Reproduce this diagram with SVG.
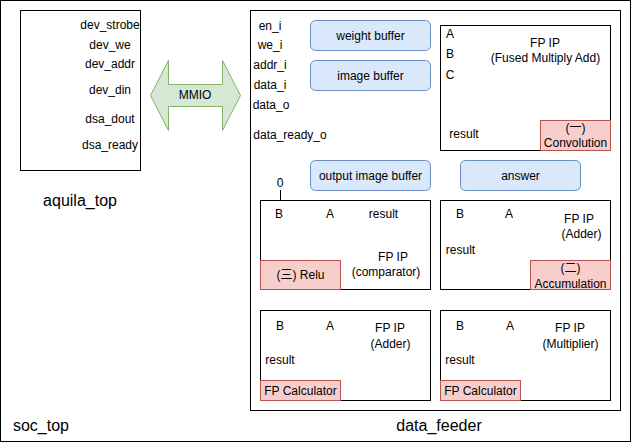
<svg xmlns="http://www.w3.org/2000/svg" width="631" height="442" viewBox="0 0 631 442">
<style>
text{font-family:"Liberation Sans",Arial,"Noto Sans CJK SC",sans-serif;font-size:12px;fill:#000;text-anchor:middle;dominant-baseline:central}
.big{font-size:16px}
.frame{fill:#fff;stroke:#000;stroke-width:1}
.buf{fill:#dae8fc;stroke:#6c8ebf;stroke-width:1}
.red{fill:#f8cecc;stroke:#b85450;stroke-width:1}
.arrow{fill:#d5e8d4;stroke:#82b366;stroke-width:1}
</style>
<rect width="631" height="442" fill="#fff"/>
<g id="soc_top">
<rect class="frame" x="0.5" y="0.5" width="630" height="441"/>
<text class="big" x="41" y="425">soc_top</text>
</g>
<g id="aquila_top">
<rect class="frame" x="20.5" y="10.5" width="120" height="160"/>
<text x="110" y="25">dev_strobe</text>
<text x="110" y="45">dev_we</text>
<text x="110" y="64">dev_addr</text>
<text x="110" y="90">dev_din</text>
<text x="110" y="119">dsa_dout</text>
<text x="110" y="145">dsa_ready</text>
<text class="big" x="80" y="200">aquila_top</text>
</g>
<g id="data_feeder">
<rect class="frame" x="250.5" y="10.5" width="370" height="400"/>
<text x="270" y="26">en_i</text>
<text x="270" y="45">we_i</text>
<text x="270" y="65">addr_i</text>
<text x="270" y="85">data_i</text>
<text x="271" y="105">data_o</text>
<text x="290" y="135">data_ready_o</text>
<text x="280" y="183">0</text>
<text class="big" x="439" y="425">data_feeder</text>
</g>
<g id="weight_buffer">
<rect class="buf" x="310.5" y="20.5" width="120" height="30" rx="5"/>
<text x="370.5" y="35.5">weight buffer</text>
</g>
<g id="image_buffer">
<rect class="buf" x="310.5" y="60.5" width="120" height="30" rx="5"/>
<text x="370.5" y="75.5">image buffer</text>
</g>
<g id="output_image_buffer">
<rect class="buf" x="310.5" y="160.5" width="120" height="30" rx="5"/>
<text x="370.5" y="175.5">output image buffer</text>
</g>
<g id="answer">
<rect class="buf" x="460.5" y="160.5" width="120" height="30" rx="5"/>
<text x="520.5" y="175.5">answer</text>
</g>
<g id="convolution">
<rect class="frame" x="440.5" y="25.5" width="170" height="125"/>
<text x="450" y="34">A</text>
<text x="450" y="54">B</text>
<text x="450" y="75">C</text>
<text x="545" y="43">FP IP</text>
<text x="545.5" y="58">(Fused Multiply Add)</text>
<text x="464" y="134">result</text>
<rect class="red" x="540.5" y="120.5" width="70" height="30"/>
<text x="575.5" y="128">(一)</text>
<text x="575.5" y="143">Convolution</text>
</g>
<g id="relu">
<rect class="frame" x="260.5" y="200.5" width="170" height="89"/>
<text x="279" y="214">B</text>
<text x="330" y="214">A</text>
<text x="383.5" y="214">result</text>
<text x="393" y="257">FP IP</text>
<text x="386" y="272">(comparator)</text>
<rect class="red" x="260.5" y="260.5" width="80" height="29"/>
<text x="300.5" y="275">(三) Relu</text>
</g>
<g id="accumulation">
<rect class="frame" x="440.5" y="200.5" width="170" height="89"/>
<text x="460" y="214">B</text>
<text x="509" y="214">A</text>
<text x="579" y="219">FP IP</text>
<text x="581.5" y="233.5">(Adder)</text>
<text x="460.5" y="250">result</text>
<rect class="red" x="530.5" y="260.5" width="80" height="29"/>
<text x="570.5" y="267.5">(二)</text>
<text x="570.5" y="283.5">Accumulation</text>
</g>
<g id="fp_adder">
<rect class="frame" x="260.5" y="310.5" width="170" height="90"/>
<text x="280" y="326">B</text>
<text x="330" y="326">A</text>
<text x="390" y="328">FP IP</text>
<text x="390.5" y="343.5">(Adder)</text>
<text x="280" y="359.5">result</text>
<rect class="red" x="260.5" y="380.5" width="80" height="20"/>
<text x="300.5" y="390.5">FP Calculator</text>
</g>
<g id="fp_multiplier">
<rect class="frame" x="440.5" y="310.5" width="170" height="90"/>
<text x="460" y="326">B</text>
<text x="510" y="326">A</text>
<text x="570" y="328">FP IP</text>
<text x="570.5" y="343.5">(Multiplier)</text>
<text x="460" y="359.5">result</text>
<rect class="red" x="440.5" y="380.5" width="80" height="20"/>
<text x="480.5" y="390.5">FP Calculator</text>
</g>
<g id="connectors">
<g id="mmio">
<path class="arrow" d="M150.5,95.5 L168.5,60.5 L168.5,84.5 L222.5,84.5 L222.5,60.5 L240.5,95.5 L222.5,130.5 L222.5,106.5 L168.5,106.5 L168.5,130.5 Z"/>
<text x="195" y="95">MMIO</text>
</g>
<line x1="280.5" y1="190" x2="280.5" y2="200.5" stroke="#000" stroke-width="1"/>
</g>
</svg>
